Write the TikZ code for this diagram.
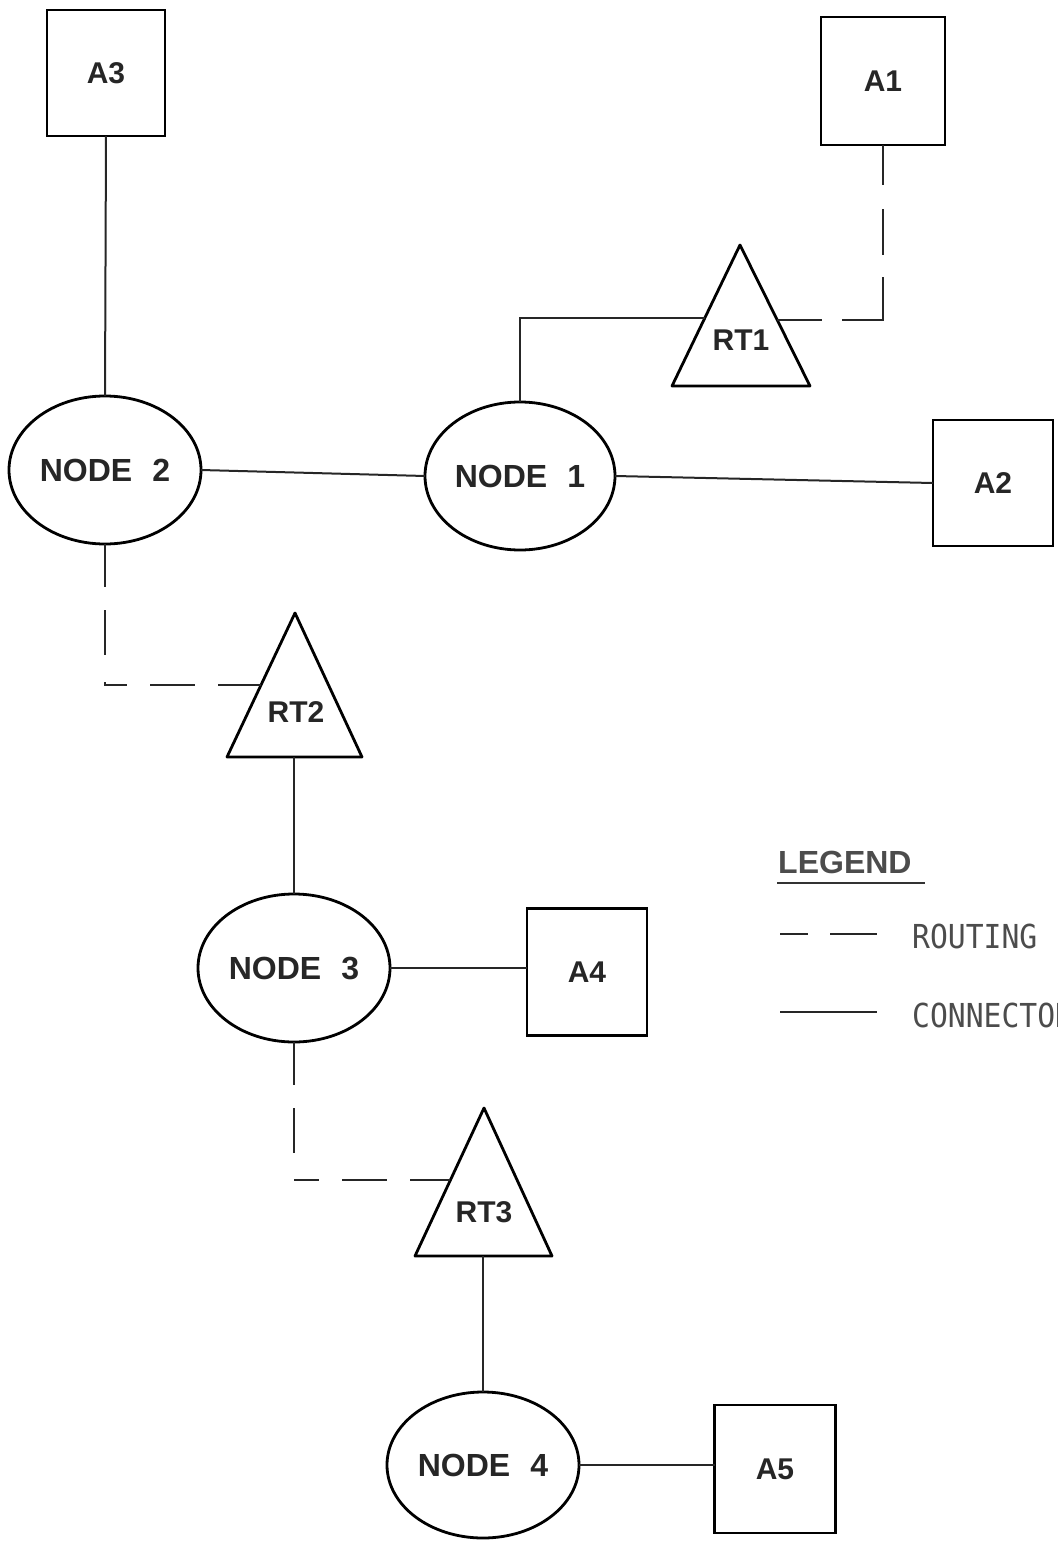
\documentclass[tikz,border=0pt]{standalone}
\usepackage{fontspec}
\setmainfont{Liberation Sans}
\newfontfamily\legendfont{DejaVu Sans Mono}
\usetikzlibrary{shapes.geometric,calc}

\tikzset{
  lbl/.style={font=\fontsize{30}{36}\selectfont\bfseries, text=black!85},
  station/.style={draw, line width=2.8pt, ellipse, inner sep=0pt, outer sep=0pt,
                  minimum width=192pt, minimum height=148pt, lbl,
                  font=\fontsize{32}{38}\selectfont\bfseries},
  appbox/.style={draw, line width=2.8pt, rectangle, inner sep=0pt, outer sep=0pt,
                 minimum width=120pt, minimum height=126pt, lbl},
  tri/.style={draw, line width=2.8pt, line join=round},
  conn/.style={line width=2pt, black!85},
  routeA/.style={conn, dash pattern=on 43pt off 23pt on 45pt off 27pt on 25pt off 23pt on 45pt off 23pt on 80pt off 0pt},
  routeB/.style={conn, dash pattern=on 45pt off 20pt on 84pt off 22pt on 46pt off 24pt on 80pt off 0pt},
}

\begin{document}
\begin{tikzpicture}[x=1pt, y=-1pt]
\useasboundingbox (0,0) rectangle (1057,1541);
\clip (0,0) rectangle (1057,1541);

% application boxes
\node[appbox, minimum width=118pt] (a3) at (106,73) {A3};
\node[appbox, minimum width=124pt, minimum height=128pt] (a1) at (883,81) {A1};
\node[appbox] (a2) at (993,483) {A2};
\node[appbox, minimum width=120pt, minimum height=127pt] (a4) at (587,972) {A4};
\node[appbox, minimum width=121pt, minimum height=128pt] (a5) at (775,1469) {A5};

% network nodes
\node[station] (n2) at (105,470) {NODE\hspace{20pt}2};
\node[station, minimum width=190pt] (n1) at (520,476) {NODE\hspace{20pt}1};
\node[station] (n3) at (294,968) {NODE\hspace{20pt}3};
\node[station, minimum height=146pt] (n4) at (483,1465) {NODE\hspace{20pt}4};

% routers (triangles)
\coordinate (rt1a) at (740,245); \coordinate (rt1b) at (672,386); \coordinate (rt1c) at (810,386);
\coordinate (rt2a) at (295,613); \coordinate (rt2b) at (227,757); \coordinate (rt2c) at (362,757);
\coordinate (rt3a) at (484,1108); \coordinate (rt3b) at (415,1256); \coordinate (rt3c) at (552,1256);
\draw[tri] (rt1a) -- (rt1b) -- (rt1c) -- cycle;
\draw[tri] (rt2a) -- (rt2b) -- (rt2c) -- cycle;
\draw[tri] (rt3a) -- (rt3b) -- (rt3c) -- cycle;
\node[lbl] (rt1) at (741,340) {RT1};
\node[lbl] (rt2) at (296,712) {RT2};
\node[lbl] (rt3) at (484,1212) {RT3};

% attachment points on the router edges
\coordinate (rt1w) at ($(rt1a)!0.518!(rt1b)$);
\coordinate (rt1e) at ($(rt1a)!0.532!(rt1c)$);
\coordinate (rt2w) at ($(rt2a)!0.5!(rt2b)$);
\coordinate (rt3w) at ($(rt3a)!0.486!(rt3b)$);
\coordinate (rt2s) at ($(rt2b)!0.5!(rt2c)$);
\coordinate (rt3s) at ($(rt3b)!0.5!(rt3c)$);

% connectors
\draw[conn] (a3.south) -- (n2.north);
\draw[conn] (n2.east) -- (n1.west);
\draw[conn] (n1.east) -- (a2.west);
\draw[conn] (n1.north) |- (rt1w);
\draw[conn] (n3.north |- rt2s) -- (n3.north);
\draw[conn] (n3.east) -- (n3.east -| a4.west);
\draw[conn] (n4.north |- rt3s) -- (n4.north);
\draw[conn] (n4.east) -- (n4.east -| a5.west);

% routing paths
\draw[routeB] (rt1e) -| (a1.south);
\draw[routeA] (n2.south) |- (rt2w);
\draw[routeA] (n3.south) |- (rt3w);

% legend
\node[font=\fontsize{32}{38}\selectfont\bfseries, text=black!70, anchor=west, inner sep=0pt] (leg) at (778,862) {LEGEND};
\coordinate (ulA) at (777,883);
\coordinate (ulB) at (925,883);
\draw[line width=2.4pt, black!80] (ulA) -- (ulB);
\coordinate (dsA) at (780,934);
\coordinate (dsB) at (877,934);
\draw[conn, dash pattern=on 28pt off 22pt on 47pt off 0pt] (dsA) -- (dsB);
\coordinate (slA) at (780,1012);
\coordinate (slB) at (877,1012);
\draw[conn] (slA) -- (slB);
\node[anchor=west, inner sep=0pt, text=black!70] (rtg) at (912,936)
  {\scalebox{0.9}[1]{\legendfont\fontsize{33}{38}\selectfont ROUTING}};
\node[anchor=west, inner sep=0pt, text=black!70] (cnn) at (912,1015)
  {\scalebox{0.9}[1]{\legendfont\fontsize{33}{38}\selectfont CONNECTOR}};
\end{tikzpicture}
\end{document}
